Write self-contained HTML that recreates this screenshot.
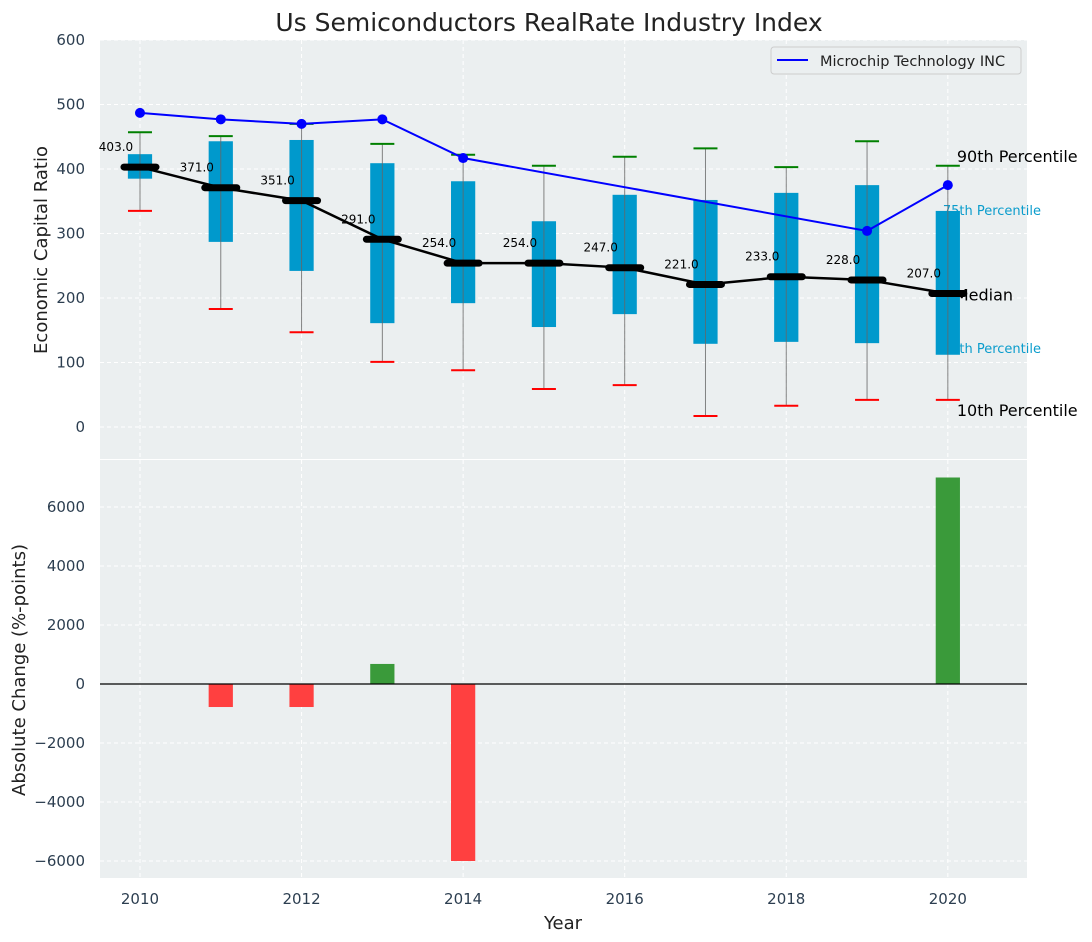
<!DOCTYPE html>
<html><head><meta charset="utf-8"><style>
body{margin:0;background:#fff}
svg{display:block;font-family:"DejaVu Sans","Liberation Sans",sans-serif}
</style></head><body>
<svg id="c" width="1092" height="942" xmlns="http://www.w3.org/2000/svg"></svg>
<script>
const years=[2010,2011,2012,2013,2014,2015,2016,2017,2018,2019,2020];
const p90=[457,451,470,439,422,405,419,432,403,443,405];
const p75=[423,443,445,409,381,319,360,352,363,375,335];
const medians=[403,371,351,291,254,254,247,221,233,228,207];
const p25=[385,287,242,161,192,155,175,129,132,130,112];
const p10=[335,183,147,101,88,59,65,17,33,42,42];
const company=[487,477,470,477,417,null,null,null,null,304,375];
const changes=[0,-780,-780,680,-6000,0,0,0,0,0,7000];
const topTicks=[0,100,200,300,400,500,600];
const botTicks=[-6000,-4000,-2000,0,2000,4000,6000];
const xTicks=[2010,2012,2014,2016,2018,2020];

const NS="http://www.w3.org/2000/svg",svg=document.getElementById('c');
function el(t,a,txt,parent){const e=document.createElementNS(NS,t);for(const k in a)e.setAttribute(k,a[k]);if(txt!=null)e.textContent=txt;(parent||svg).appendChild(e);return e;}
const X0=100,X1=1027,xmin=2009.505,xmax=2020.98;
const x=v=>X0+(v-xmin)/(xmax-xmin)*(X1-X0);
const T0=40,T1=459,tmin=-49.6,tmax=600;
const yT=v=>T1-(v-tmin)/(tmax-tmin)*(T1-T0);
const B0=460,B1=878,bmin=-6576,bmax=7593;
const yB=v=>B1-(v-bmin)/(bmax-bmin)*(B1-B0);
const tc='#2c3e50';

let e;
e=el('text',{x:549,y:31,'text-anchor':'middle','font-size':25,fill:'#222'},'Us Semiconductors RealRate Industry Index');

e=el('rect',{x:X0,y:T0,width:X1-X0,height:T1-T0,fill:'#ebeff0'});

e=el('rect',{x:X0,y:B0,width:X1-X0,height:B1-B0,fill:'#ebeff0'});


xTicks.forEach(v=>{
  el('line',{x1:x(v),x2:x(v),y1:T0,y2:T1,stroke:'#fff','stroke-dasharray':'4,3'});
  el('line',{x1:x(v),x2:x(v),y1:B0,y2:B1,stroke:'#fff','stroke-dasharray':'4,3'});
  e=el('text',{x:x(v),y:904,'text-anchor':'middle','font-size':15,fill:tc},String(v));
  
});
topTicks.forEach(v=>{
  el('line',{x1:X0,x2:X1,y1:yT(v),y2:yT(v),stroke:'#fff','stroke-dasharray':'4,3'});
  e=el('text',{x:85,y:yT(v)+5,'text-anchor':'end','font-size':15,fill:tc},String(v));
  
});
botTicks.forEach(v=>{
  el('line',{x1:X0,x2:X1,y1:yB(v),y2:yB(v),stroke:'#fff','stroke-dasharray':'4,3'});
  e=el('text',{x:85,y:yB(v)+5,'text-anchor':'end','font-size':15,fill:tc},String(v).replace('-','\u2212'));
  
});
e=el('text',{x:0,y:0,transform:'translate(47,250) rotate(-90)','text-anchor':'middle','font-size':18,fill:'#222'},'Economic Capital Ratio');

e=el('text',{x:0,y:0,transform:'translate(25,670) rotate(-90)','text-anchor':'middle','font-size':18,fill:'#222'},'Absolute Change (%-points)');

e=el('text',{x:563,y:929,'text-anchor':'middle','font-size':18,fill:'#222'},'Year');


const last=years.length-1;
e=el('text',{x:x(years[last])+9,y:yT(p90[last])-4,'font-size':16,fill:'#000'},'90th Percentile');

e=el('text',{x:x(years[last])-5,y:yT(p75[last])+4,'font-size':13,fill:'#0a9ccc'},'75th Percentile');

e=el('text',{x:x(years[last])+7,y:yT(medians[last])+7,'font-size':16,fill:'#000'},'Median');

e=el('text',{x:x(years[last])-5,y:yT(p25[last])-2,'font-size':13,fill:'#0a9ccc'},'25th Percentile');

e=el('text',{x:x(years[last])+9,y:yT(p10[last])+16,'font-size':16,fill:'#000'},'10th Percentile');


const bw=0.3*(x(1)-x(0));
years.forEach((yr,i)=>{
  const cx=x(yr);
  e=el('rect',{x:cx-bw/2,y:yT(p75[i]),width:bw,height:yT(p25[i])-yT(p75[i]),fill:'#0099cc'});
  
  e=el('line',{x1:cx,x2:cx,y1:yT(p90[i]),y2:yT(p10[i]),stroke:'#666','stroke-width':1,opacity:0.8});
  
  e=el('line',{x1:cx-12,x2:cx+12,y1:yT(p90[i]),y2:yT(p90[i]),stroke:'green','stroke-width':2});
  
  e=el('line',{x1:cx-12,x2:cx+12,y1:yT(p10[i]),y2:yT(p10[i]),stroke:'red','stroke-width':2});
  
});
e=el('polyline',{points:years.map((yr,i)=>x(yr)+','+yT(medians[i])).join(' '),fill:'none',stroke:'#000','stroke-width':2.5});

years.forEach((yr,i)=>{
  const cx=x(yr);
  e=el('line',{x1:cx-16,x2:cx+16,y1:yT(medians[i]),y2:yT(medians[i]),stroke:'#000','stroke-width':7,'stroke-linecap':'round'});
  
  e=el('text',{x:cx-24,y:yT(medians[i])-16,'text-anchor':'middle','font-size':12,fill:'#000'},medians[i].toFixed(1));
  
});
const pts=[];years.forEach((yr,i)=>{if(company[i]!=null)pts.push([x(yr),yT(company[i])]);});
e=el('polyline',{points:pts.map(p=>p.join(',')).join(' '),fill:'none',stroke:'#0000ff','stroke-width':2});

pts.forEach(p=>{e=el('circle',{cx:p[0],cy:p[1],r:5,fill:'#0000ff'});
});

e=el('rect',{x:771,y:47,width:250,height:27,rx:3,fill:'#ebeff0',stroke:'#ccc'});

el('line',{x1:777,x2:808,y1:60,y2:60,stroke:'#0000ff','stroke-width':2});
e=el('text',{x:820,y:66,'font-size':14.5,fill:'#222'},'Microchip Technology INC');


years.forEach((yr,i)=>{
  const v=changes[i];if(v===0)return;
  e=el('rect',{x:x(yr)-bw/2,y:Math.min(yB(v),yB(0)),width:bw,height:Math.abs(yB(v)-yB(0)),fill:v>0?'#3a9a3a':'#ff4040'});
  
});
e=el('line',{x1:X0,x2:X1,y1:yB(0),y2:yB(0),stroke:'#000','stroke-width':1.2});

</script>
</body></html>
